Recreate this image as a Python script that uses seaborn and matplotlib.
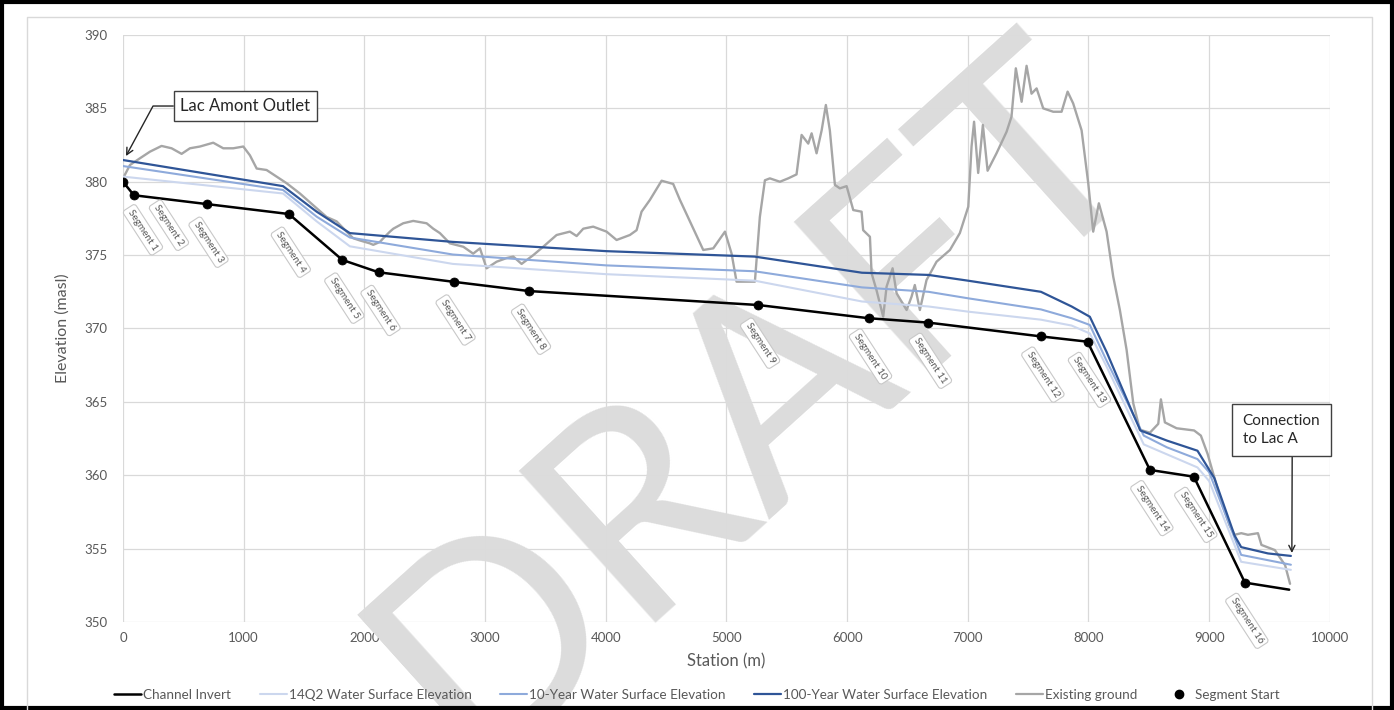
import numpy as np
import pandas as pd
import matplotlib
matplotlib.use("Agg")
import matplotlib.pyplot as plt
import seaborn as sns
from matplotlib.lines import Line2D
from matplotlib.patches import Rectangle

# ---------------- data ----------------
invert_x = [0, 91, 693, 1375, 1818, 2118, 2740, 3365, 5263, 6178, 6674, 7606, 7992,
            8509, 8873, 9296, 9663]
invert_y = [380.0, 379.08, 378.48, 377.8, 374.67, 373.83, 373.18, 372.55, 371.6, 370.7,
            370.4, 369.46, 369.1, 360.36, 359.9, 352.68, 352.2]

seg_names = [f"Segment {i}" for i in range(1, 17)]

q2_x = [0, 1326, 1605, 1880, 2733, 4004, 5233, 6123, 6674, 7000, 7606, 7860, 8011, 8150,
        8458, 8903, 9000, 9265, 9677]
q2_y = [380.35, 379.2, 377.3, 375.6, 374.4, 373.7, 373.26, 371.84, 371.5, 371.15, 370.6,
        370.2, 369.66, 367.4, 362.1, 360.53, 359.6, 354.1, 353.55]

y10_x = [0, 1326, 1605, 1880, 2733, 4004, 5233, 6123, 6674, 7000, 7606, 7860, 8011, 8150,
         8458, 8650, 8903, 9000, 9265, 9677]
y10_y = [381.07, 379.44, 377.62, 376.2, 375.04, 374.3, 373.9, 372.8, 372.5, 372.06, 371.3,
         370.7, 370.24, 367.8, 362.7, 361.9, 361.1, 360.2, 354.57, 353.9]

y100_x = [0, 1326, 1605, 1880, 2733, 4004, 5233, 6123, 6674, 7000, 7606, 7860, 8011, 8150,
          8368, 8430, 8650, 8903, 9043, 9210, 9265, 9487, 9677]
y100_y = [381.48, 379.7, 377.96, 376.5, 375.9, 375.27, 374.9, 373.8, 373.65, 373.26, 372.5,
          371.5, 370.8, 368.4, 364.2, 363.05, 362.36, 361.67, 359.8, 355.9, 355.1, 354.67, 354.5]

ground_x = [8, 58, 141, 224, 320, 403, 486, 555, 638, 748, 831, 914, 997, 1052, 1108, 1190,
            1273, 1356, 1466, 1577, 1687, 1770, 1853, 1908, 1963, 2046, 2074, 2129, 2157,
            2212, 2240, 2322, 2405, 2516, 2571, 2626, 2709, 2820, 2902, 2958, 3013, 3096,
            3179, 3234, 3303, 3400, 3482, 3593, 3703, 3759, 3814, 3896, 4007, 4090, 4200,
            4256, 4297, 4366, 4463, 4559, 4615, 4698, 4808, 4891, 4988, 5043, 5084, 5236,
            5277, 5319, 5360, 5443, 5512, 5581, 5623, 5678, 5706, 5747, 5789, 5824, 5857,
            5899, 5940, 5996, 6051, 6120, 6133, 6189, 6203, 6244, 6299, 6327, 6377, 6410,
            6493, 6534, 6561, 6603, 6658, 6741, 6852, 6934, 7004, 7031, 7052, 7086, 7125,
            7164, 7238, 7321, 7362, 7398, 7446, 7487, 7528, 7570, 7625, 7708, 7777, 7827,
            7873, 7943, 7998, 8039, 8086, 8150, 8205, 8260, 8316, 8371, 8426, 8509, 8578,
            8600, 8633, 8730, 8875, 8931, 8987, 9043, 9099, 9168, 9210, 9266, 9321, 9404,
            9433, 9544, 9629, 9670]
ground_y = [380.35, 381.14, 381.6, 382.05, 382.44, 382.28, 381.9, 382.28, 382.4, 382.66,
            382.28, 382.28, 382.4, 381.8, 380.9, 380.8, 380.35, 379.9, 379.2, 378.4, 377.6,
            377.3, 376.6, 376.15, 376.0, 375.8, 375.7, 375.9, 376.15, 376.6, 376.8, 377.17,
            377.33, 377.17, 376.8, 376.5, 375.8, 375.57, 375.1, 375.46, 374.1, 374.55, 374.8,
            374.9, 374.4, 375.0, 375.57, 376.37, 376.6, 376.3, 376.8, 376.94, 376.6, 376.03,
            376.37, 376.7, 377.96, 378.76, 380.07, 379.85, 378.76, 377.3, 375.35, 375.46,
            376.6, 375.1, 373.19, 373.19, 377.6, 380.1, 380.23, 380.0, 380.23, 380.5, 383.19,
            382.6, 383.3, 381.94, 383.5, 385.23, 383.5, 379.78, 379.55, 379.7, 378.07,
            377.96, 376.7, 376.25, 373.76, 372.6, 370.8, 372.85, 374.1, 372.4, 371.26,
            372.17, 372.96, 371.26, 373.3, 374.55, 375.35, 376.5, 378.3, 382.4, 384.09,
            380.6, 383.87, 380.75, 381.94, 383.4, 384.43, 387.73, 385.45, 387.9, 386.0,
            386.36, 385.0, 384.77, 384.77, 386.14, 385.34, 383.5, 379.9, 376.6, 378.53,
            376.6, 373.53, 371.26, 368.53, 364.9, 363.1, 362.9, 363.5, 365.17, 363.6, 363.2,
            363.05, 362.7, 361.45, 359.84, 358.23, 356.6, 355.94, 356.05, 355.94, 356.05,
            355.25, 354.9, 353.87, 352.6]

series_labels = ["Channel Invert", "14Q2 Water Surface Elevation",
                 "10-Year Water Surface Elevation", "100-Year Water Surface Elevation",
                 "Existing ground", "Segment Start"]
x_ticks = list(range(0, 10001, 1000))
y_ticks = list(range(350, 391, 5))

# ---------------- style ----------------
sns.set_theme(style="whitegrid")
plt.rcParams['font.family'] = ['Lato', 'DejaVu Sans']
TXT = '#595959'
C_INV = 'black'
C_Q2 = '#ccd7ee'
C_10 = '#8eaadb'
C_100 = '#2f5597'
C_GND = '#a6a6a6'

fig = plt.figure(figsize=(13.94, 7.10), dpi=100)
ax = fig.add_axes([0.0882, 0.124, 0.954 - 0.0882, 0.9507 - 0.124])
ax.set_axisbelow(True)

df_g = pd.DataFrame({'x': ground_x, 'y': ground_y})
df_q2 = pd.DataFrame({'x': q2_x, 'y': q2_y})
df_10 = pd.DataFrame({'x': y10_x, 'y': y10_y})
df_100 = pd.DataFrame({'x': y100_x, 'y': y100_y})
df_inv = pd.DataFrame({'x': invert_x, 'y': invert_y})
df_seg = df_inv.iloc[:16].copy()
df_seg['name'] = seg_names

sns.lineplot(data=df_g, x='x', y='y', color=C_GND, lw=1.7, estimator=None, sort=False, ax=ax, legend=False, zorder=3)
sns.lineplot(data=df_q2, x='x', y='y', color=C_Q2, lw=1.5, estimator=None, sort=False, ax=ax, legend=False, zorder=3)
sns.lineplot(data=df_10, x='x', y='y', color=C_10, lw=1.5, estimator=None, sort=False, ax=ax, legend=False, zorder=3)
sns.lineplot(data=df_100, x='x', y='y', color=C_100, lw=1.6, estimator=None, sort=False, ax=ax, legend=False, zorder=3)
sns.lineplot(data=df_inv, x='x', y='y', color=C_INV, lw=1.8, estimator=None, sort=False, ax=ax, legend=False, zorder=4)
sns.scatterplot(data=df_seg, x='x', y='y', color='black', s=42, edgecolor='black', zorder=5, ax=ax, legend=False)

ax.set_xlim(0, 10000)
ax.set_ylim(350, 390)
ax.set_xticks(x_ticks)
ax.set_yticks(y_ticks)
ax.grid(True, color='#d9d9d9', lw=0.9)
for s in ax.spines.values():
    s.set_visible(False)
ax.tick_params(axis='both', labelsize=9.5, labelcolor=TXT, length=0)
ax.tick_params(axis='y', pad=11)
ax.tick_params(axis='x', pad=7)
ax.set_xlabel("Station (m)", fontsize=12, color=TXT)
ax.set_ylabel("Elevation (masl)", fontsize=11.5, color=TXT)
ax.xaxis.set_label_coords(0.5, -0.053)
ax.yaxis.set_label_coords(-0.044, 0.5)

# watermark (between grid and data lines)
ax.text(755 / 1394, 1 - 400 / 710, "DRAFT", transform=fig.transFigure, rotation=42,
        ha='center', va='center', fontsize=205, color='#dcdcdc', zorder=1.5, clip_on=False)

# segment labels
offsets = {0: (14.4, -34.6), 1: (25.2, -21.6)}
for i, row in df_seg.reset_index(drop=True).iterrows():
    dx, dy = offsets.get(i, (1.4, -27.5))
    ax.annotate(row['name'], xy=(row['x'], row['y']), xytext=(dx, dy),
                textcoords='offset points', rotation=-57, rotation_mode='anchor',
                ha='center', va='center', fontsize=7.2, color=TXT,
                bbox=dict(boxstyle='round,pad=0.3', fc='white', ec='#c8c8c8', lw=0.8),
                annotation_clip=False, zorder=6)

# callouts
ax.annotate("Lac Amont Outlet", xy=(25, 381.75), xytext=(1015, 385.16),
            ha='center', va='center', fontsize=12, color='#262626',
            bbox=dict(boxstyle='square,pad=0.4', fc='white', ec='#404040', lw=1),
            arrowprops=dict(arrowstyle='->', connectionstyle='angle,angleA=0,angleB=61.6,rad=0',
                            color='#262626', lw=1, shrinkA=0, shrinkB=0),
            zorder=7)
ax.annotate("Connection\nto Lac A", xy=(9685, 354.7), xytext=(9598, 363.08),
            ha='center', va='center', fontsize=11, color='#262626', multialignment='left',
            linespacing=1.3,
            bbox=dict(boxstyle='square,pad=0.7', fc='white', ec='#404040', lw=1),
            arrowprops=dict(arrowstyle='->', color='#262626', lw=1, shrinkA=0, shrinkB=0,
                            relpos=(0.64, 0)),
            zorder=7)

# legend
handles = [
    Line2D([], [], color=C_INV, lw=1.8),
    Line2D([], [], color=C_Q2, lw=1.5),
    Line2D([], [], color=C_10, lw=1.5),
    Line2D([], [], color=C_100, lw=1.6),
    Line2D([], [], color=C_GND, lw=1.6),
    Line2D([], [], color='black', marker='o', ls='none', markersize=6),
]
leg = fig.legend(handles, series_labels, loc='center', bbox_to_anchor=(0.5, 1 - 695 / 710),
                 ncol=6, frameon=False, fontsize=9.75, handlelength=2.0, handletextpad=0.15,
                 columnspacing=2.1)
for t in leg.get_texts():
    t.set_color(TXT)

# frames
fig.add_artist(Line2D([27 / 1394, 27 / 1394, 1372 / 1394, 1372 / 1394],
                      [0, 1 - 17 / 710, 1 - 17 / 710, 0], transform=fig.transFigure,
                      color='#d9d9d9', lw=1))
fig.add_artist(Rectangle((0.0015, 0.0025), 0.997, 0.995, transform=fig.transFigure,
                         fill=False, ec='black', lw=3))

fig.savefig("out.png", dpi=100)
